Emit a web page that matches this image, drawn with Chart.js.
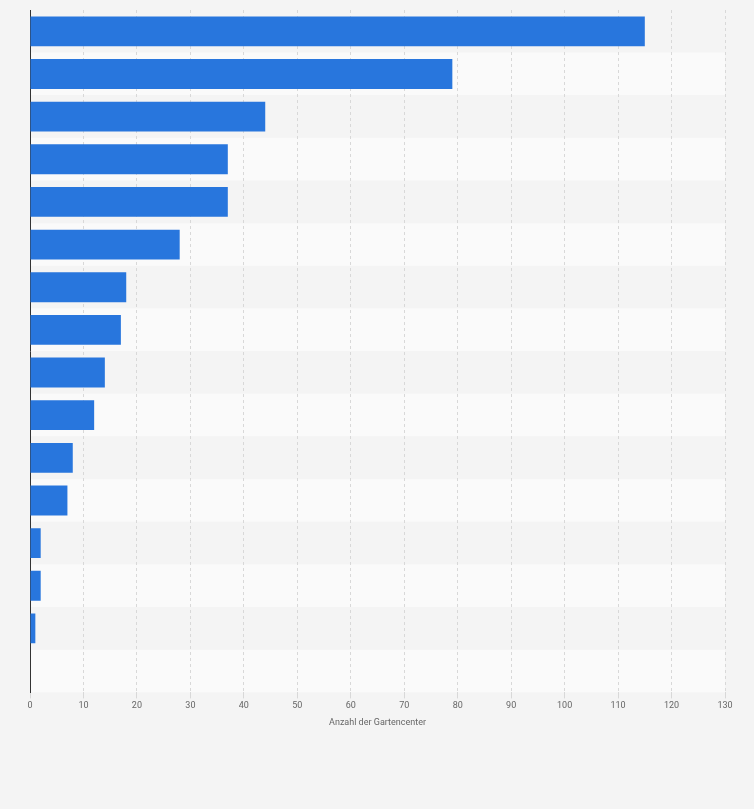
<!DOCTYPE html>
<html>
<head>
<meta charset="utf-8">
<script src="https://cdn.jsdelivr.net/npm/chart.js@4"></script>
<style>
  html, body { margin: 0; padding: 0; background: #f4f4f4; }
  #wrap { width: 754px; height: 809px; }
</style>
</head>
<body>
<div id="wrap"><canvas id="chart"></canvas></div>
<script>
const categories = ["", "", "", "", "", "", "", "", "", "", "", "", "", "", "", ""];
const values = [115, 79, 44, 37, 37, 28, 18, 17, 14, 12, 8, 7, 2, 2, 1, null];
const xTicks = [0, 10, 20, 30, 40, 50, 60, 70, 80, 90, 100, 110, 120, 130];

// alternating row bands behind grid and bars
const bands = {
    id: "bands",
    beforeDraw(chart) {
        const {ctx, chartArea: a, scales: {y}} = chart;
        const step = (a.bottom - a.top) / categories.length;
        ctx.save();
        categories.forEach((c, i) => {
            ctx.fillStyle = i % 2 === 0 ? "#f4f4f4" : "#fafafa";
            ctx.fillRect(a.left, y.getPixelForValue(i) - step / 2, a.right - a.left, step);
        });
        ctx.restore();
    }
};

new Chart(document.getElementById("chart"), {
    type: "bar",
    data: {
        labels: categories,
        datasets: [{
            data: values,
            backgroundColor: "#2876dd",
            categoryPercentage: 0.7,
            barPercentage: 1
        }]
    },
    options: {
        indexAxis: "y",
        responsive: true,
        maintainAspectRatio: false,
        animation: false,
        layout: {padding: {left: 22, right: 29, top: 10, bottom: 77}},
        plugins: {legend: {display: false}, tooltip: {enabled: false}},
        scales: {
            x: {
                min: 0, max: 130,
                afterBuildTicks: s => { s.ticks = xTicks.map(v => ({value: v})); },
                grid: {color: "#d8d8d8", tickLength: 6, drawTicks: true},
                border: {display: false, dash: [3, 3]},
                ticks: {color: "#666", font: {size: 9, family: "Roboto"}, padding: 2},
                title: {display: true, text: "Anzahl der Gartencenter", color: "#666", font: {size: 9, family: "Roboto"}, padding: {top: 4}}
            },
            y: {
                ticks: {display: false},
                grid: {display: false},
                border: {display: true, color: "#333", width: 1}
            }
        }
    },
    plugins: [bands]
});
</script>
</body>
</html>
